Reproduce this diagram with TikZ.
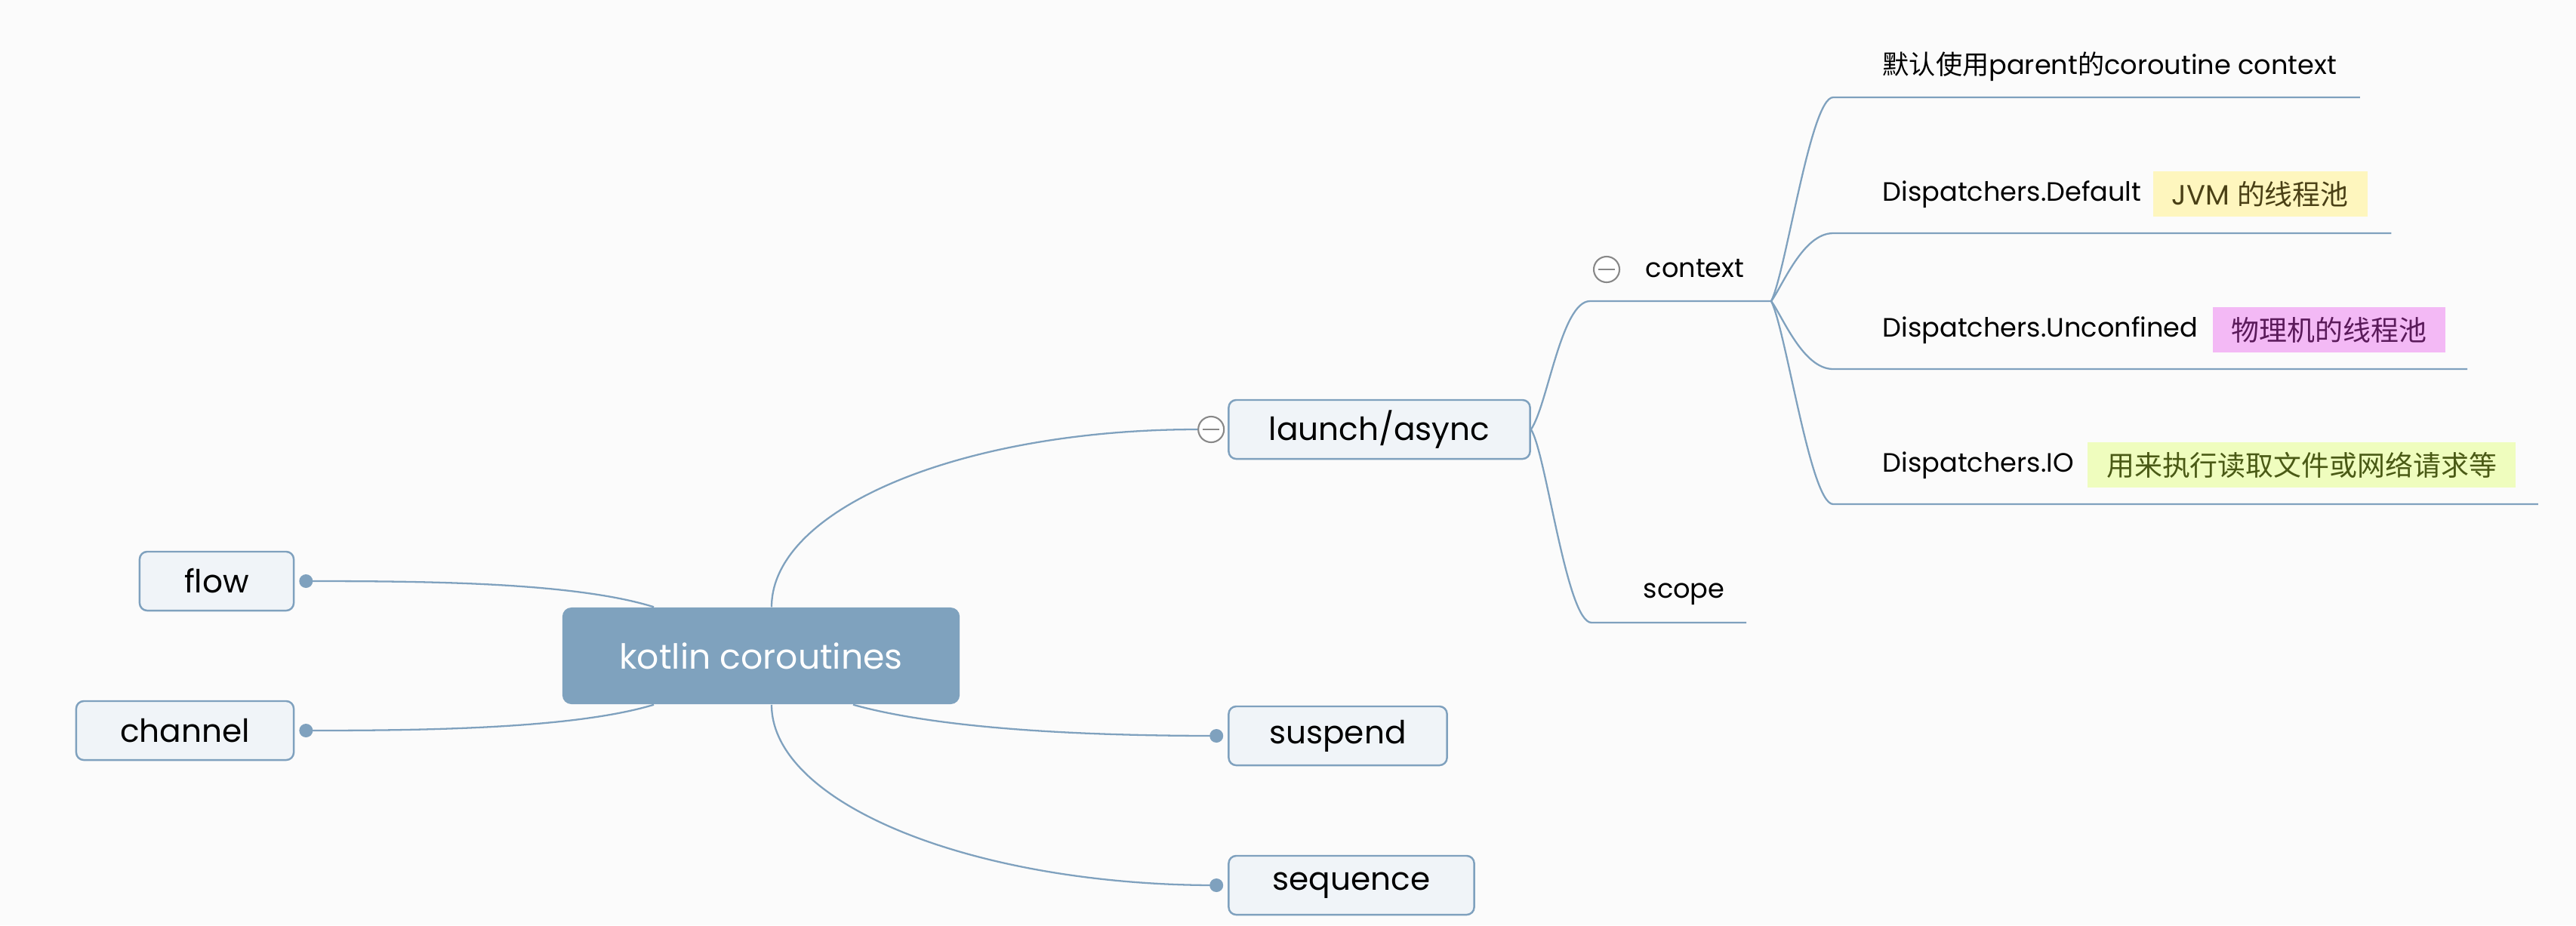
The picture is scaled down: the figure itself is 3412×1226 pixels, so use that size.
\documentclass[tikz,border=0pt]{standalone}
\usepackage{fontspec}
\setmainfont{Poppins}
\newfontfamily\cjk{Noto Sans CJK SC}
\usetikzlibrary{positioning, calc}

\definecolor{linec}{HTML}{7FA1BE}
\definecolor{rootc}{HTML}{7FA2BE}
\definecolor{boxfill}{HTML}{F0F4F8}
\definecolor{bgc}{HTML}{FBFBFB}
\definecolor{foldc}{HTML}{888888}
\definecolor{yelfill}{HTML}{FEF6BE}
\definecolor{yeltext}{HTML}{4A4015}
\definecolor{magfill}{HTML}{F3B9F5}
\definecolor{magtext}{HTML}{5A1A5A}
\definecolor{grnfill}{HTML}{EFFDBE}
\definecolor{grntext}{HTML}{4A5A15}

\begin{document}
\begin{tikzpicture}[
  x=0.01cm, y=-0.01cm,
  root/.style={
    fill=rootc,
    rounded corners=0.12cm,
    text=white,
    minimum width=5.26cm,
    minimum height=1.28cm,
    font=\fontsize{13}{15}\selectfont
  },
  box/.style={
    draw=linec,
    line width=0.7pt,
    fill=boxfill,
    rounded corners=0.1cm,
    minimum height=0.78cm,
    font=\fontsize{12}{14}\selectfont
  },
  sub/.style={inner sep=0, anchor=base west, font=\fontsize{10}{12}\selectfont},
  note/.style={inner xsep=0.25cm, minimum height=0.6cm, font=\fontsize{10.5}{12}\selectfont},
  link/.style={draw=linec, line width=0.65pt},
  dot/.style={circle, fill=linec, inner sep=0, minimum size=0.18cm},
  fold/.style={circle, draw=foldc, fill=white, line width=0.6pt, inner sep=0, minimum size=0.34cm}
]

\fill[bgc] (0,0) rectangle (3412,1226);
\useasboundingbox (0,0) rectangle (3412,1226);

% Central topic
\node[root] (root) at (1008,869) {kotlin coroutines};

% Left topics
\node[box, minimum width=2.04cm] (flow) at (287,770) {flow};
\node[box, minimum width=2.88cm] (channel) at (245,968) {channel};
\node[dot] (flowdot) at ($(flow.east)+(15,0)$) {};
\node[dot] (channeldot) at ($(channel.east)+(15,0)$) {};

% Right topics
\node[box, minimum width=3.99cm] (launch) at (1827,569) {launch/async};
\node[box, minimum width=2.89cm] (suspend) at (1772,975) {suspend};
\node[box, minimum width=3.25cm] (sequence) at (1790,1173) {sequence};
\node[fold] (launchfold) at ($(launch.west)+(-22,0)$) {};
\node[dot] (suspenddot) at ($(suspend.west)+(-15,0)$) {};
\node[dot] (sequencedot) at ($(sequence.west)+(-15,0)$) {};

% launch/async branch
\node[sub] (context) at (2179,367) {context};
\node[fold] (contextfold) at (2128,357) {};
\node[sub] (scope) at (2176,792) {scope};
\coordinate (contextL) at (2106,399);
\coordinate (contextR) at (2346,399);
\coordinate (scopeL) at (2108,825);
\coordinate (scopeR) at (2313,825);

% context branch
\node[sub] (parentctx) at (2493,98) {{\cjk 默认使用}parent{\cjk 的}coroutine context};
\node[sub] (dispdefault) at (2493,266) {Dispatchers.Default};
\node[note, fill=yelfill, text=yeltext, right=0.14cm of dispdefault] (jvmnote) {JVM {\cjk 的线程池}};
\node[sub] (dispunconf) at (2493,446) {Dispatchers.Unconfined};
\node[note, fill=magfill, text=magtext, right=0.18cm of dispunconf] (physnote) {{\cjk 物理机的线程池}};
\node[sub] (dispio) at (2493,625) {Dispatchers.IO};
\node[note, fill=grnfill, text=grntext, right=0.17cm of dispio] (ionote) {{\cjk 用来执行读取文件或网络请求等}};
\coordinate (parentctxL) at (2428,129);
\coordinate (dispdefaultL) at (2428,309);
\coordinate (dispunconfL) at (2428,489);
\coordinate (dispioL) at (2428,668);

% fold marks
\draw[foldc, line width=0.8pt] ($(launchfold.center)+(-11,0)$) -- ($(launchfold.center)+(11,0)$);
\draw[foldc, line width=0.8pt] ($(contextfold.center)+(-11,0)$) -- ($(contextfold.center)+(11,0)$);

% Connectors
\draw[link] ($(root.north)+(14,0)$) .. controls +(0,-130) and +(-313,0) .. (launchfold.west);
\draw[link] ($(root.north)+(-142,0)$) .. controls +(-106,-33) and +(156,0) .. (flowdot.center);
\draw[link] ($(root.south)+(-142,0)$) .. controls +(-106,32) and +(156,0) .. (channeldot.center);
\draw[link] ($(root.south)+(122,0)$) .. controls +(100,28) and +(-213,0) .. (suspenddot.center);
\draw[link] ($(root.south)+(14,0)$) .. controls +(0,131) and +(-323,0) .. (sequencedot.center);

\draw[link] (launch.east) .. controls +(22,-32) and +(-38,0) .. (contextL) -- (contextR);
\draw[link] (launch.east) .. controls +(20,31) and +(-33,0) .. (scopeL) -- (scopeR);

\draw[link] (contextR) .. controls +(20,-40) and +(-30,0) .. (parentctxL) -- ($(parentctxL -| parentctx.east)+(30,0)$);
\draw[link] (contextR) .. controls +(15,-20) and +(-40,0) .. (dispdefaultL) -- ($(dispdefaultL -| jvmnote.east)+(31,0)$);
\draw[link] (contextR) .. controls +(15,20) and +(-40,0) .. (dispunconfL) -- ($(dispunconfL -| physnote.east)+(28,0)$);
\draw[link] (contextR) .. controls +(20,40) and +(-30,0) .. (dispioL) -- ($(dispioL -| ionote.east)+(29,0)$);

\end{tikzpicture}
\end{document}
